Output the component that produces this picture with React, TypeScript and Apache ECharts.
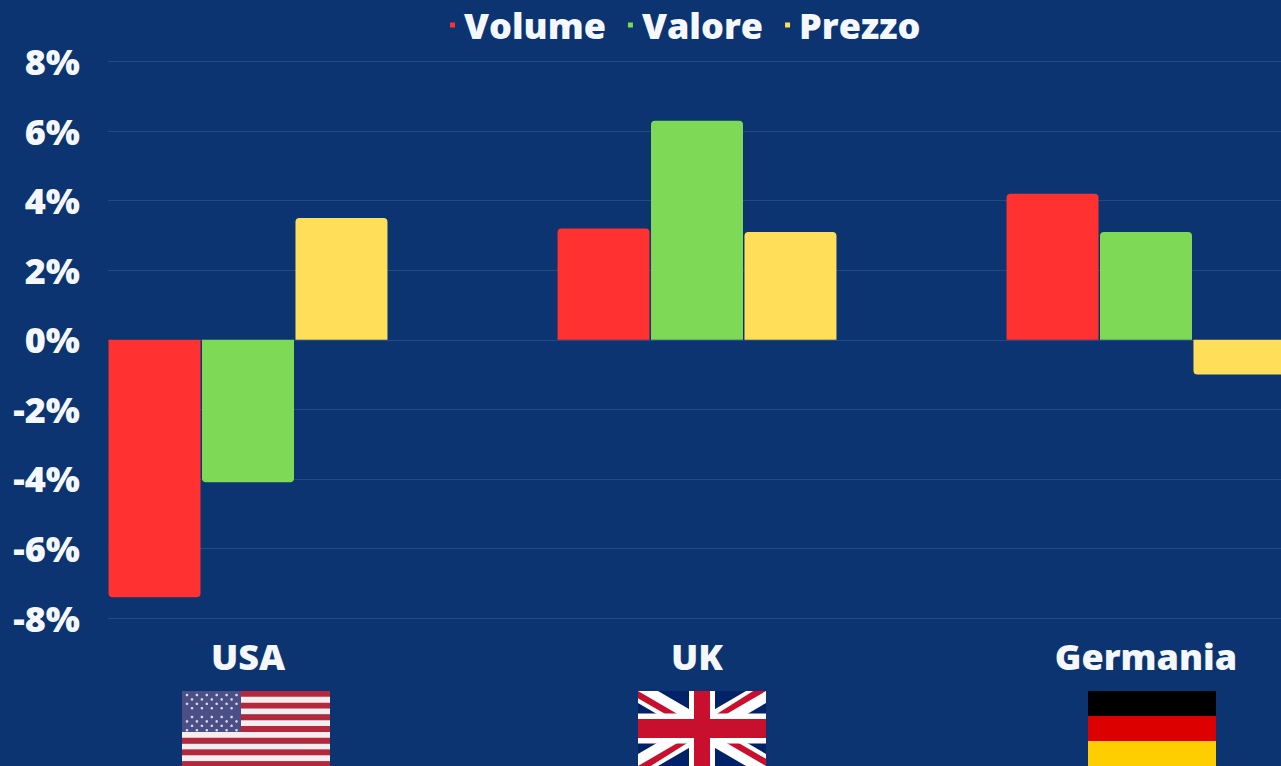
import React, { useEffect, useRef } from "react";
import * as echarts from "echarts";

const categories = ["USA", "UK", "Germania"];
const volume = [-7.4, 3.2, 4.2];
const valore = [-4.1, 6.3, 3.1];
const prezzo = [3.5, 3.1, -1.0];
const BG = "#0B3470";
const FONT = '"Open Sans", "Noto Sans", sans-serif';

const rect = (x: number, y: number, w: number, h: number, fill: string) => ({
  type: "rect", shape: { x, y, width: w, height: h }, style: { fill }, silent: true,
});
const poly = (points: number[][], fill: string) => ({
  type: "polygon", shape: { points }, style: { fill }, silent: true,
});

function usFlag() {
  const x = 182, y = 691, w = 148, s = 5.85;
  const out: any[] = [];
  for (let i = 0; i < 13; i++) out.push(rect(x, y + i * s, w, s + 0.2, i % 2 ? "#F6EEEE" : "#B5273A"));
  out.push(rect(x, y, 59, s * 7, "#4A4F86"));
  for (let r = 0; r < 9; r++) {
    const n = r % 2 ? 5 : 6;
    for (let c = 0; c < n; c++) {
      out.push({
        type: "circle",
        shape: { cx: x + 5 + (r % 2 ? 5 : 0) + c * 9.9, cy: y + 4 + r * 4.4, r: 1.3 },
        style: { fill: "#DDD8E6" },
        silent: true,
      });
    }
  }
  return out;
}

function ukFlag() {
  const x = 638, y = 691, w = 128, h = 75;
  const cx = x + w / 2, cy = y + h / 2;
  const red = "#C8102E", white = "#FFFFFF";
  const dx = 20, dy = 12, px = 8, py = 4.5;
  return [
    rect(x, y, w, h, "#012169"),
    poly([[x, y], [x + dx, y], [x + w, y + h - dy], [x + w, y + h], [x + w - dx, y + h], [x, y + dy]], white),
    poly([[x + w, y], [x + w - dx, y], [x, y + h - dy], [x, y + h], [x + dx, y + h], [x + w, y + dy]], white),
    poly([[x, y], [cx - 10, cy - 6], [cx - 10 - px * 1.5, cy - 6], [x, y + py * 1.6]], red),
    poly([[x + w, y + h], [cx + 10, cy + 6], [cx + 10 + px * 1.5, cy + 6], [x + w, y + h - py * 1.6]], red),
    poly([[x + w, y], [cx + 10, cy - 6], [cx + 10, cy - 6 - py * 1.2], [x + w - px * 1.6, y]], red),
    poly([[x, y + h], [cx - 10, cy + 6], [cx - 10, cy + 6 + py * 1.2], [x + px * 1.6, y + h]], red),
    rect(cx - 13, y, 26, h, white),
    rect(x, cy - 15, w, 30, white),
    rect(cx - 8, y, 16, h, red),
    rect(x, cy - 9.5, w, 19, red),
  ];
}

function deFlag() {
  const x = 1088, y = 691, w = 128, s = 25;
  return [rect(x, y, w, s, "#000000"), rect(x, y + s, w, s, "#DD0000"), rect(x, y + 2 * s, w, s, "#FFCE00")];
}

function barData(values: number[]) {
  return values.map((value) => ({
    value,
    itemStyle: { borderRadius: value >= 0 ? [4, 4, 0, 0] : [0, 0, 4, 4] },
  }));
}

export default function App() {
  const ref = useRef<HTMLDivElement>(null);
  useEffect(() => {
    document.body.style.margin = "0";
    const chart = echarts.init(ref.current!, undefined, { renderer: "svg" });
    const series = (name: string, data: number[], color: string) => ({
      name, type: "bar", data: barData(data), xAxisIndex: 1, yAxisIndex: 1,
      barWidth: 92, barGap: "1.6%", itemStyle: { color }, z: 3,
    });
    chart.setOption({
      animation: false,
      backgroundColor: BG,
      textStyle: { fontFamily: FONT },
      legend: {
        top: 2, left: 445, icon: "rect", itemWidth: 5, itemHeight: 5, itemGap: 22,
        textStyle: { color: "#F4F7FB", fontSize: 36, fontWeight: 800, fontFamily: FONT, padding: [0, 0, 0, 4] },
        data: ["Volume", "Valore", "Prezzo"],
      },
      grid: [
        { left: 108, top: 61.5, width: 1173, height: 556.5, outerBoundsMode: "none" },
        { left: 23.5, top: 61.5, width: 1347, height: 556.5, outerBoundsMode: "none" },
      ],
      xAxis: [
        { gridIndex: 0, type: "category", data: categories, show: false },
        {
          gridIndex: 1, type: "category", data: categories, position: "bottom",
          axisLine: { show: false, onZero: false }, axisTick: { show: false },
          axisLabel: { color: "#F4F7FB", fontSize: 36, fontWeight: 800, fontFamily: FONT, margin: 20, interval: 0 },
        },
      ],
      yAxis: [
        {
          gridIndex: 0, type: "value", min: -8, max: 8, interval: 2,
          axisLine: { show: false }, axisTick: { show: false },
          axisLabel: { formatter: "{value}%", color: "#F4F7FB", fontSize: 36, fontWeight: 800, fontFamily: FONT, margin: 28 },
          splitLine: { lineStyle: { color: "#224B85", width: 1 } },
        },
        { gridIndex: 1, type: "value", min: -8, max: 8, interval: 2, show: false, splitLine: { show: false } },
      ],
      series: [
        series("Volume", volume, "#FF3131"),
        series("Valore", valore, "#7ED957"),
        series("Prezzo", prezzo, "#FFDE59"),
      ],
      graphic: { elements: [...usFlag(), ...ukFlag(), ...deFlag()] },
    });
    return () => chart.dispose();
  }, []);
  return <div ref={ref} style={{ width: 1281, height: 766, overflow: "hidden" }} />;
}
